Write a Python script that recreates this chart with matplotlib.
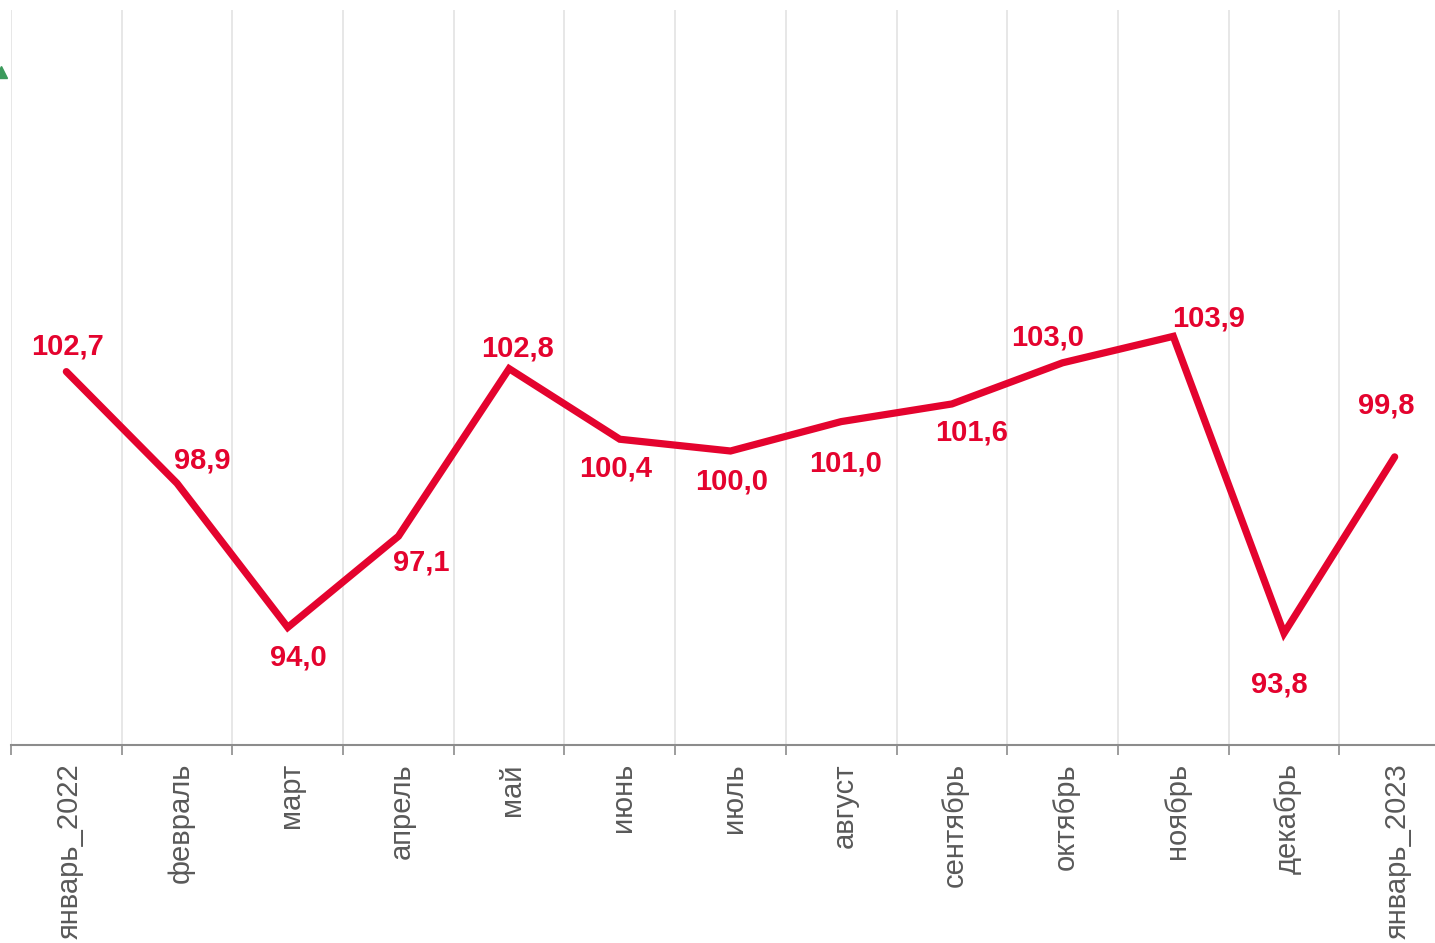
import matplotlib.pyplot as plt
from matplotlib.lines import Line2D
from matplotlib.ticker import FixedLocator, NullFormatter

months = ["январь_2022", "февраль", "март", "апрель", "май", "июнь", "июль",
          "август", "сентябрь", "октябрь", "ноябрь", "декабрь", "январь_2023"]
values = [102.7, 98.9, 94.0, 97.1, 102.8, 100.4, 100.0, 101.0, 101.6, 103.0, 103.9, 93.8, 99.8]

# label offsets (dx, dy) in pixels relative to each point
label_offsets = [(1, 25), (25, 23), (11, -30), (23, -26), (8, 20), (-4, -29), (1, -31),
                 (4, -42), (20, -29), (-15, 25), (35, 18), (-5, -51), (-8, 51)]

red = "#E4032E"
plt.rcParams['font.family'] = ['Liberation Sans', 'DejaVu Sans']

W, H = 1435, 943
fig = plt.figure(figsize=(W / 100, H / 100), dpi=100)
ax = fig.add_axes([11 / W, (H - 745) / H, 1439 / W, (745 - 10) / H])

x = list(range(len(months)))
ax.plot(x, values, color=red, lw=5.2, solid_joinstyle='miter', solid_capstyle='round', zorder=3)

for xi, v, (dx, dy) in zip(x, values, label_offsets):
    ax.annotate(f"{v:.1f}".replace(".", ","), (xi, v), xytext=(dx * 0.72, dy * 0.72),
                textcoords="offset points", ha="center", va="center",
                color=red, fontsize=21, fontweight="bold", zorder=4)

ax.set_xlim(-0.5, 12.5)
ax.set_ylim(90, 115)
ax.set_yticks([])

bounds = [i - 0.5 for i in range(len(months) + 1)]
ax.xaxis.set_major_locator(FixedLocator([i + 0.03 for i in x]))
ax.set_xticklabels(months, rotation=90, fontsize=21, color="#595959")
ax.tick_params(axis="x", which="major", length=0, pad=13)
ax.xaxis.set_minor_locator(FixedLocator(bounds))
ax.xaxis.set_minor_formatter(NullFormatter())
ax.tick_params(axis="x", which="minor", length=7, width=1.2, color="#8c8c8c", direction="out")
ax.grid(axis="x", which="minor", color="#e0e0e0", lw=1.1)

for s in ["top", "right", "left"]:
    ax.spines[s].set_visible(False)
ax.spines["bottom"].set_color("#8c8c8c")
ax.spines["bottom"].set_linewidth(1.5)

# small green marker clipped at the left edge
fig.add_artist(Line2D([0.5 / W], [1 - 72 / H], marker="^", markersize=9, color="#3a9a5b",
                      transform=fig.transFigure))

fig.savefig("out.png", dpi=100)
